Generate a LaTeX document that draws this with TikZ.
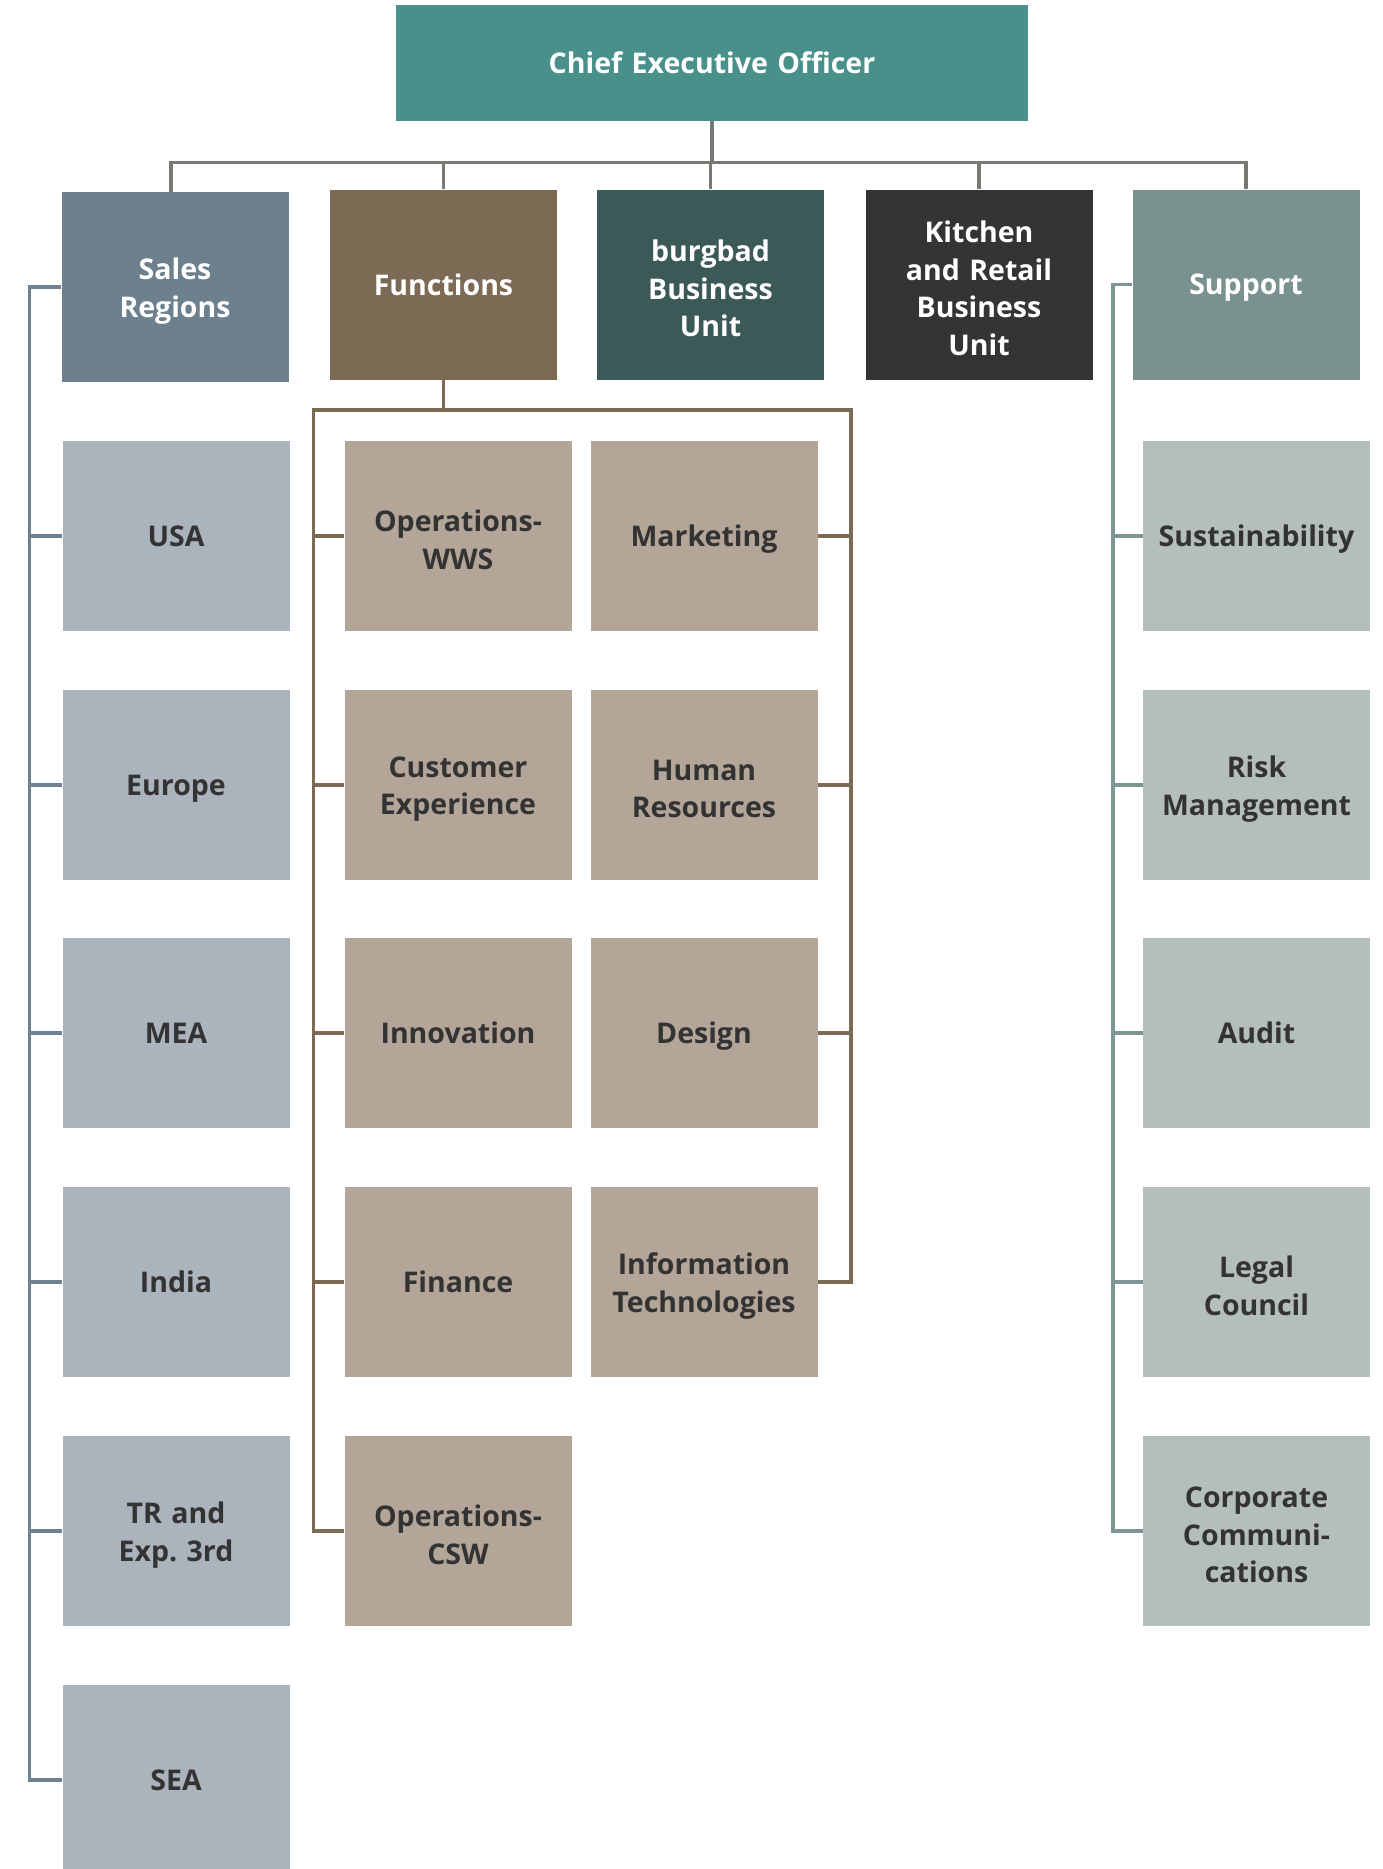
\documentclass[tikz,border=0pt]{standalone}
\usepackage{fontspec}
\setmainfont{Open Sans}
\frenchspacing
\definecolor{ceoC}{HTML}{4A908A}
\definecolor{salesC}{HTML}{6D808E}
\definecolor{funcC}{HTML}{7D6A55}
\definecolor{burgC}{HTML}{3A5957}
\definecolor{kitC}{HTML}{353432}
\definecolor{supC}{HTML}{7A928D}
\definecolor{salesSubC}{HTML}{ABB3BD}
\definecolor{funcSubC}{HTML}{B3A598}
\definecolor{supSubC}{HTML}{B4BEBB}
\definecolor{txtC}{HTML}{333333}
\definecolor{busC}{HTML}{777A72}
\definecolor{salesLineC}{HTML}{6E8291}
\definecolor{funcLineC}{HTML}{7D6A55}
\definecolor{supLineC}{HTML}{7D9693}
\tikzset{
  box/.style={rectangle, minimum width=227pt, minimum height=190pt, inner sep=0pt,
    align=center, text width=220pt, font=\fontsize{28.5}{37.5}\selectfont\bfseries,
    execute at end node={\par\vspace*{-8pt}}},
  topbox/.style={box, text=white},
  subbox/.style={box, text=txtC},
  conn/.style={line width=3.5pt, line join=miter},
}
\begin{document}
\begin{tikzpicture}[x=1pt,y=-1pt]
\useasboundingbox (0,0) rectangle (1383,1869);
\clip (0,0) rectangle (1383,1869);
% top
\node[topbox, fill=ceoC, minimum width=632pt, minimum height=116pt, text width=600pt] (ceo) at (712,63) {Chief Executive Officer};
\node[topbox, fill=salesC] (sales) at (175,287) {Sales\\Regions};
\node[topbox, fill=funcC] (func) at (443.5,284.5) {Functions};
\node[topbox, fill=burgC] (burg) at (710.5,284.5) {burgbad\\Business\\Unit};
\node[topbox, fill=kitC] (kit) at (979,284.5) {Kitchen\\and Retail\\Business\\Unit};
\node[topbox, fill=supC] (sup) at (1246,284.5) {Support};
% sales children
\node[subbox, fill=salesSubC] (usa) at (176,536) {USA};
\node[subbox, fill=salesSubC] (europe) at (176,785) {Europe};
\node[subbox, fill=salesSubC] (mea) at (176,1033) {MEA};
\node[subbox, fill=salesSubC] (india) at (176,1282) {India};
\node[subbox, fill=salesSubC] (tr) at (176,1531) {TR and\\Exp. 3rd};
\node[subbox, fill=salesSubC] (sea) at (176,1780) {SEA};
% functions children
\node[subbox, fill=funcSubC] (opswws) at (458,536) {Operations-\\WWS};
\node[subbox, fill=funcSubC] (custexp) at (458,785) {Customer\\Experience};
\node[subbox, fill=funcSubC] (innov) at (458,1033) {Innovation};
\node[subbox, fill=funcSubC] (finance) at (458,1282) {Finance};
\node[subbox, fill=funcSubC] (opscsw) at (458,1531) {Operations-\\CSW};
\node[subbox, fill=funcSubC] (mkt) at (704,536) {Marketing};
\node[subbox, fill=funcSubC] (hr) at (704,785) {Human\\Resources};
\node[subbox, fill=funcSubC] (design) at (704,1033) {Design};
\node[subbox, fill=funcSubC] (it) at (704,1282) {Information\\Technologies};
% support children
\node[subbox, fill=supSubC] (sust) at (1256.5,536) {Sustainability};
\node[subbox, fill=supSubC] (risk) at (1256.5,785) {Risk\\Management};
\node[subbox, fill=supSubC] (audit) at (1256.5,1033) {Audit};
\node[subbox, fill=supSubC] (legal) at (1256.5,1282) {Legal\\Council};
\node[subbox, fill=supSubC] (corp) at (1256.5,1531) {Corporate\\Communi-\\cations};
% coordinates
\coordinate (bus) at (0,162.7);
\coordinate (sl) at (29.5,0);
\coordinate (fb) at (0,410);
\coordinate (fl) at (313.7,0);
\coordinate (fr) at (851,0);
\coordinate (spl) at (1113,0);
% CEO bus
\draw[conn, busC] (ceo.south) -- (ceo.south |- bus);
\draw[conn, busC] ([xshift=-4pt]sales.north) -- ([xshift=-4pt]sales.north |- bus) -- (sup.north |- bus) -- (sup.north);
\foreach \n in {func,burg,kit} \draw[conn, busC] (\n.north) -- (\n.north |- bus);
% sales
\draw[conn, salesLineC] (sales.west) -- (sales.west -| sl) -- (sea.west -| sl) -- (sea.west);
\foreach \n in {usa,europe,mea,india,tr} \draw[conn, salesLineC] (\n.west -| sl) -- (\n.west);
% functions
\draw[conn, funcLineC] (func.south) -- (func.south |- fb);
\draw[conn, funcLineC] (opscsw.west) -- (opscsw.west -| fl) -- (fl |- fb) -- (fr |- fb) -- (it.east -| fr) -- (it.east);
\foreach \n in {opswws,custexp,innov,finance} \draw[conn, funcLineC] (\n.west -| fl) -- (\n.west);
\foreach \n in {mkt,hr,design} \draw[conn, funcLineC] (\n.east -| fr) -- (\n.east);
% support
\draw[conn, supLineC] (sup.west) -- (sup.west -| spl) -- (corp.west -| spl) -- (corp.west);
\foreach \n in {sust,risk,audit,legal} \draw[conn, supLineC] (\n.west -| spl) -- (\n.west);
\end{tikzpicture}
\end{document}
